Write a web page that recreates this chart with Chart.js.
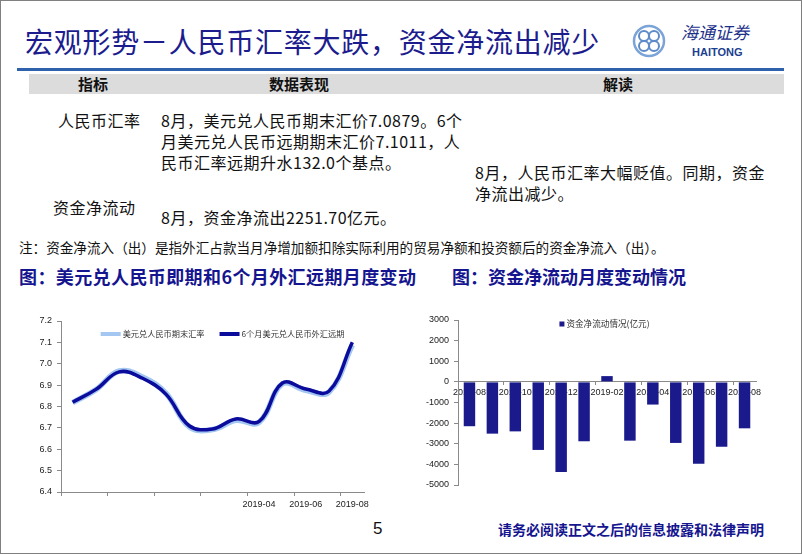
<!DOCTYPE html>
<html>
<head>
<meta charset="utf-8">
<script src="https://cdn.jsdelivr.net/npm/chart.js@4/dist/chart.umd.min.js"></script>
<style>
  body { margin: 0; background: #fff; }
  #slide { position: relative; width: 800px; height: 552px; border: 1px solid #808080; overflow: hidden;
           font-family: "Noto Sans CJK SC", sans-serif; color: #111; }
  .abs { position: absolute; white-space: nowrap; }
  .title { left: 24px; top: 22px; font-size: 28px; line-height: 36px; color: #1c1c8e; letter-spacing: 0.75px; }
  .rule { left: 16px; top: 67px; width: 767px; height: 3px; background: #2f62ad; }
  .band { left: 28px; top: 73px; width: 755px; height: 20px; background: #dcdcdc; }
  .hd { top: 73px; font-size: 15px; line-height: 20px; font-weight: bold; }
  .row { font-size: 16px; line-height: 21px; letter-spacing: 0.5px; }
  .note { left: 18px; top: 236px; font-size: 13.6px; line-height: 20px; }
  .ctitle { top: 264px; font-size: 18px; line-height: 22px; font-weight: bold; color: #15158f; }
  .foot { left: 497px; top: 518px; font-size: 14px; line-height: 20px; font-weight: bold; color: #15158f; }
  .page { left: 372px; top: 518px; font-family: "Liberation Sans", Arial, sans-serif; font-size: 17px; line-height: 20px; }
</style>
</head>
<body>
<div id="slide">
  <div class="abs title">宏观形势－人民币汇率大跌，资金净流出减少</div>
  <svg class="abs" style="left:630px;top:22px" width="140" height="40">
    <circle cx="18" cy="18" r="15" fill="none" stroke="#7aa3d8" stroke-width="2.5"/>
    <circle cx="13" cy="13" r="5" fill="none" stroke="#5d8bc9" stroke-width="2"/>
    <circle cx="23" cy="13" r="5" fill="none" stroke="#5d8bc9" stroke-width="2"/>
    <circle cx="13" cy="23" r="5" fill="none" stroke="#5d8bc9" stroke-width="2"/>
    <circle cx="23" cy="23" r="5" fill="none" stroke="#5d8bc9" stroke-width="2"/>
    <text x="50" y="16" font-size="17" fill="#1c2f8a" font-style="italic" font-family="Noto Sans CJK SC">海通证券</text>
    <text x="61" y="33" font-size="11" fill="#1c3f8f" font-weight="bold" font-family="Liberation Sans, Arial">HAITONG</text>
  </svg>
  <div class="abs rule"></div>
  <div class="abs band"></div>
  <div class="abs hd" style="left:77px">指标</div>
  <div class="abs hd" style="left:268px">数据表现</div>
  <div class="abs hd" style="left:602px">解读</div>

  <div class="abs row" style="left:57px;top:109px">人民币汇率</div>
  <div class="abs row" style="left:160px;top:109px">8月，美元兑人民币期末汇价7.0879。6个<br>月美元兑人民币远期期末汇价7.1011，人<br>民币汇率远期升水132.0个基点。</div>
  <div class="abs row" style="left:474px;top:161px">8月，人民币汇率大幅贬值。同期，资金<br>净流出减少。</div>
  <div class="abs row" style="left:52px;top:196px">资金净流动</div>
  <div class="abs row" style="left:160px;top:206px">8月，资金净流出2251.70亿元。</div>

  <div class="abs note">注：资金净流入（出）是指外汇占款当月净增加额扣除实际利用的贸易净额和投资额后的资金净流入（出）。</div>
  <div class="abs ctitle" style="left:18px;letter-spacing:0.4px">图：美元兑人民币即期和6个月外汇远期月度变动</div>
  <div class="abs ctitle" style="left:451px">图：资金净流动月度变动情况</div>

  <canvas id="rateChart" class="abs" style="left:0;top:300px" width="380" height="215"></canvas>
  <canvas id="flowChart" class="abs" style="left:400px;top:300px" width="380" height="200"></canvas>

  <div class="abs page">5</div>
  <div class="abs foot">请务必阅读正文之后的信息披露和法律声明</div>
</div>

<script>
// data
const months = ['2018-08', '2018-09', '2018-10', '2018-11', '2018-12', '2019-01', '2019-02',
                '2019-03', '2019-04', '2019-05', '2019-06', '2019-07', '2019-08'];
const spotRate = [6.818, 6.879, 6.966, 6.938, 6.862, 6.705, 6.692, 6.735, 6.726, 6.906, 6.876, 6.868, 7.088];
const forwardRate = [6.820, 6.880, 6.962, 6.932, 6.858, 6.710, 6.695, 6.742, 6.730, 6.910, 6.882, 6.872, 7.101];
const netFlow = [-2150, -2510, -2400, -3300, -4370, -2880, 280, -2850, -1100, -2960, -3970, -3140, -2251.7];
const rateTicks = [6.4, 7.2, 0.1];   // min, max, step
const flowTicks = [-5000, 3000, 1000];

Chart.defaults.font.family = '"Liberation Sans", Arial, sans-serif';
Chart.defaults.font.size = 9;
Chart.defaults.color = '#222';

const axisGray = '#8a8a8a';

// every second category boundary gets a tick mark
const everyOther = ctx => (ctx.index % 2 === 0 ? axisGray : 'rgba(0,0,0,0)');

// one-row legend drawn inside the plot area (like the Excel original)
const insideLegend = {
  id: 'insideLegend',
  afterDatasetsDraw(chart, args, opts) {
    const { ctx, chartArea } = chart;
    const items = chart.data.datasets.map(d => ({ text: d.label, color: d.borderColor || d.backgroundColor }));
    ctx.save();
    ctx.font = opts.font;
    const widths = items.map(it => opts.boxWidth + opts.gap + ctx.measureText(it.text).width);
    const total = widths.reduce((a, b) => a + b, 0) + opts.spacing * (items.length - 1);
    let x = (chartArea.left + chartArea.right) / 2 - total / 2 + opts.shift;
    const y = chartArea.top + opts.offsetY;
    items.forEach((it, i) => {
      ctx.fillStyle = it.color;
      ctx.fillRect(x, y - opts.boxHeight / 2, opts.boxWidth, opts.boxHeight);
      ctx.fillStyle = '#333';
      ctx.textBaseline = 'middle';
      ctx.fillText(it.text, x + opts.boxWidth + opts.gap, y);
      x += widths[i] + opts.spacing;
    });
    ctx.restore();
  }
};

new Chart(document.getElementById('rateChart'), {
  type: 'line',
  plugins: [insideLegend],
  data: {
    labels: months,
    datasets: [
      {
        label: '美元兑人民币期末汇率',
        data: spotRate,
        borderColor: '#a3c7f0',
        borderWidth: 5.5,
        pointRadius: 0,
        tension: 0.4,
        order: 2
      },
      {
        label: '6个月美元兑人民币外汇远期',
        data: forwardRate,
        borderColor: '#0c0c9c',
        borderWidth: 3.5,
        pointRadius: 0,
        tension: 0.4,
        order: 1
      }
    ]
  },
  options: {
    responsive: false,
    animation: false,
    layout: { padding: { top: 20, right: 17, left: 0, bottom: 0 } },
    plugins: {
      tooltip: { enabled: false },
      legend: { display: false },
      insideLegend: {
        font: '8.2px "Noto Sans CJK SC", sans-serif',
        boxWidth: 20, boxHeight: 4, gap: 2, spacing: 15, shift: 10, offsetY: 13
      }
    },
    scales: {
      x: {
        offset: true,
        grid: { offset: true, drawOnChartArea: false, tickLength: 4, tickColor: everyOther },
        border: { color: axisGray },
        ticks: {
          autoSkip: false,
          maxRotation: 0,
          minRotation: 0,
          padding: 3,
          callback: (v, i) => (i >= 8 && i % 2 === 0 ? months[i] : '')
        },
        afterFit: s => { s.height = 24; }
      },
      y: {
        min: rateTicks[0],
        max: rateTicks[1],
        grid: { drawOnChartArea: false, tickLength: 4, color: axisGray },
        border: { color: axisGray },
        ticks: { stepSize: rateTicks[2], padding: 5, callback: v => Number(v).toFixed(1) },
        afterFit: s => { s.width = 60; }
      }
    }
  }
});

new Chart(document.getElementById('flowChart'), {
  type: 'bar',
  plugins: [insideLegend],
  data: {
    labels: months,
    datasets: [
      {
        label: '资金净流动情况(亿元)',
        data: netFlow,
        backgroundColor: '#1a1a8c',
        barPercentage: 0.5,
        categoryPercentage: 1
      }
    ]
  },
  options: {
    responsive: false,
    animation: false,
    layout: { padding: { top: 19, right: 25, left: 0, bottom: 16 } },
    plugins: {
      tooltip: { enabled: false },
      legend: { display: false },
      insideLegend: {
        font: '8.6px "Noto Sans CJK SC", sans-serif',
        boxWidth: 5, boxHeight: 5, gap: 2, spacing: 10, shift: -2.5, offsetY: 4
      }
    },
    scales: {
      x: {
        position: { y: 0 },
        grid: { offset: true, drawOnChartArea: false, tickLength: 3, tickColor: everyOther },
        border: { color: axisGray },
        ticks: {
          autoSkip: false,
          maxRotation: 0,
          minRotation: 0,
          padding: 2,
          callback: (v, i) => (i % 2 === 0 ? months[i] : '')
        }
      },
      y: {
        min: flowTicks[0],
        max: flowTicks[1],
        grid: { drawOnChartArea: false, tickLength: 4, color: axisGray },
        border: { color: axisGray },
        ticks: { stepSize: flowTicks[2], padding: 5, callback: v => String(v) },
        afterFit: s => { s.width = 57; }
      }
    }
  }
});
</script>
</body>
</html>
